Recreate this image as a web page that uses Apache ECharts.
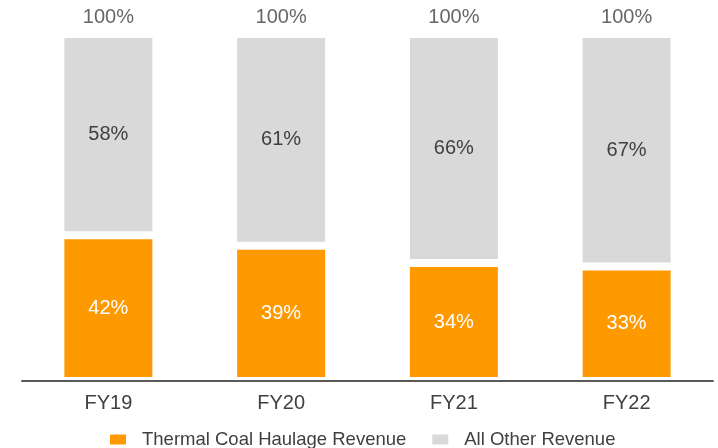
<!DOCTYPE html>
<html>
<head>
<meta charset="utf-8">
<script src="https://cdn.jsdelivr.net/npm/echarts@6/dist/echarts.min.js"></script>
<style>
  html, body { margin: 0; padding: 0; background: #ffffff; }
  #chart { width: 718px; height: 448px; }
</style>
</head>
<body>
<div id="chart"></div>
<script>
// 数据
var years = ['FY19', 'FY20', 'FY21', 'FY22'];
var coalShare = [42, 39, 34, 33];
var otherShare = [58, 61, 66, 67];
var totals = [100, 100, 100, 100];

var myChart = echarts.init(document.getElementById('chart'));
var font = 'Liberation Sans, Arial, sans-serif';

var option = {
    animation: false,
    textStyle: { fontFamily: font },
    grid: { left: 22, right: 5, top: 34, bottom: 67 },
    legend: {
        left: 103,
        top: 425,
        itemWidth: 18,
        itemHeight: 12,
        itemGap: 24,
        icon: 'rect',
        textStyle: { fontSize: 18.5, color: '#404040', fontFamily: font, padding: [0, 0, 0, 10] },
        data: ['Thermal Coal Haulage Revenue', 'All Other Revenue']
    },
    xAxis: {
        type: 'category',
        data: years,
        z: 10,
        axisTick: { show: false },
        axisLine: { lineStyle: { color: '#595959', width: 2 } },
        axisLabel: { color: '#404040', fontSize: 20, margin: 12 }
    },
    yAxis: {
        type: 'value',
        min: 0,
        max: 100,
        show: false
    },
    series: [{
        name: 'Thermal Coal Haulage Revenue',
        type: 'bar',
        stack: 'total',
        barWidth: 96,
        data: coalShare,
        itemStyle: { color: '#ff9900', borderColor: '#ffffff', borderWidth: 4 },
        label: {
            show: true,
            position: 'inside',
            formatter: '{c}%',
            color: '#ffffff',
            fontSize: 20
        }
    }, {
        name: 'All Other Revenue',
        type: 'bar',
        stack: 'total',
        barWidth: 96,
        data: otherShare,
        itemStyle: { color: '#d9d9d9', borderColor: '#ffffff', borderWidth: 4 },
        label: {
            show: true,
            position: 'inside',
            formatter: '{c}%',
            color: '#404040',
            fontSize: 20
        }
    }, {
        // 顶部合计
        name: 'total',
        type: 'scatter',
        data: totals,
        symbolSize: 0,
        silent: true,
        label: {
            show: true,
            position: 'top',
            distance: 7,
            formatter: '{c}%',
            color: '#404040',
            fontSize: 20
        }
    }]
};

myChart.setOption(option);
</script>
</body>
</html>
